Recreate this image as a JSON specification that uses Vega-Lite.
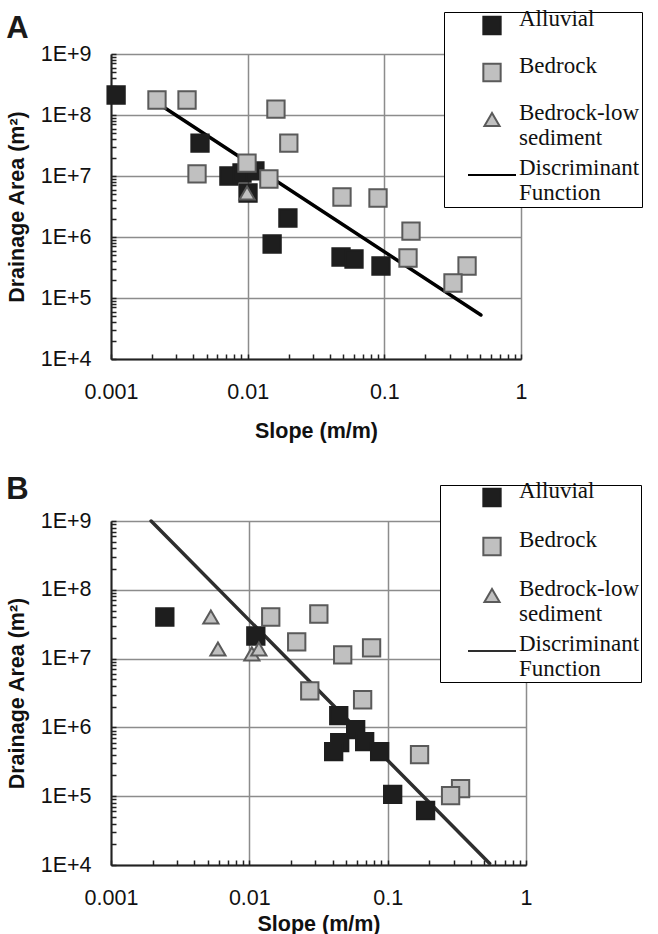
{
  "$schema": "https://vega.github.io/schema/vega-lite/v6.json",
  "background": "white",
  "padding": {"left": 6, "top": 11, "right": 0, "bottom": 0},
  "config": {
    "view": {"stroke": null},
    "font": "Liberation Sans",
    "axis": {
      "grid": true,
      "gridColor": "#8c8c8c",
      "gridWidth": 1.5,
      "domainColor": "#222222",
      "domainWidth": 2,
      "tickColor": "#222222",
      "tickWidth": 1.5,
      "tickSize": -5,
      "labelFont": "Liberation Sans",
      "labelFontSize": 21.5,
      "labelColor": "#111111",
      "labelOverlap": false,
      "labelFlush": false,
      "labelBound": false,
      "titleFont": "Liberation Sans",
      "titleFontSize": 21.5,
      "titleFontWeight": "bold",
      "titleColor": "#111111"
    },
    "legend": {
      "labelFont": "Liberation Serif",
      "labelFontSize": 23,
      "labelColor": "#111111",
      "labelLimit": 400,
      "labelBaseline": "alphabetic",
      "symbolStrokeWidth": 2,
      "strokeColor": "#000000",
      "fillColor": "#ffffff",
      "cornerRadius": 0
    },
    "title": {"font": "Liberation Sans", "fontWeight": "bold", "fontSize": 31, "color": "#1a1a1a", "anchor": "start"}
  },
  "datasets": {
    "ptsA": [
      {"s": 0.00109, "a": 213000000, "type": "Alluvial"},
      {"s": 0.00448, "a": 34700000, "type": "Alluvial"},
      {"s": 0.00729, "a": 10000000, "type": "Alluvial"},
      {"s": 0.00909, "a": 11200000, "type": "Alluvial"},
      {"s": 0.0113, "a": 12100000, "type": "Alluvial"},
      {"s": 0.01006, "a": 5260000, "type": "Alluvial"},
      {"s": 0.0197, "a": 2050000, "type": "Alluvial"},
      {"s": 0.0151, "a": 767000, "type": "Alluvial"},
      {"s": 0.0482, "a": 470000, "type": "Alluvial"},
      {"s": 0.060, "a": 436000, "type": "Alluvial"},
      {"s": 0.0945, "a": 335000, "type": "Alluvial"},
      {"s": 0.00217, "a": 176000000, "type": "Bedrock"},
      {"s": 0.0036, "a": 176000000, "type": "Bedrock"},
      {"s": 0.0161, "a": 125000000, "type": "Bedrock"},
      {"s": 0.020, "a": 34700000, "type": "Bedrock"},
      {"s": 0.00426, "a": 10800000, "type": "Bedrock"},
      {"s": 0.00989, "a": 16300000, "type": "Bedrock"},
      {"s": 0.0143, "a": 8930000, "type": "Bedrock"},
      {"s": 0.049, "a": 4530000, "type": "Bedrock"},
      {"s": 0.0899, "a": 4360000, "type": "Bedrock"},
      {"s": 0.1567, "a": 1250000, "type": "Bedrock"},
      {"s": 0.149, "a": 453000, "type": "Bedrock"},
      {"s": 0.403, "a": 335000, "type": "Bedrock"},
      {"s": 0.318, "a": 176000, "type": "Bedrock"},
      {"s": 0.0099, "a": 5260000, "type": "Bedrock-low sediment"}
    ],
    "lineA": [
      {"s": 0.00224, "a": 151000000, "type": "Discriminant Function"},
      {"s": 0.509, "a": 52600, "type": "Discriminant Function"}
    ],
    "ptsB": [
      {"s": 0.00245, "a": 40200000, "type": "Alluvial"},
      {"s": 0.01114, "a": 21300000, "type": "Alluvial"},
      {"s": 0.0443, "a": 1480000, "type": "Alluvial"},
      {"s": 0.0587, "a": 926000, "type": "Alluvial"},
      {"s": 0.045, "a": 600000, "type": "Alluvial"},
      {"s": 0.0407, "a": 445000, "type": "Alluvial"},
      {"s": 0.0682, "a": 621000, "type": "Alluvial"},
      {"s": 0.0875, "a": 445000, "type": "Alluvial"},
      {"s": 0.1087, "a": 106000, "type": "Alluvial"},
      {"s": 0.188, "a": 62000, "type": "Alluvial"},
      {"s": 0.01428, "a": 40200000, "type": "Bedrock"},
      {"s": 0.0318, "a": 44500000, "type": "Bedrock"},
      {"s": 0.022, "a": 17500000, "type": "Bedrock"},
      {"s": 0.0473, "a": 11300000, "type": "Bedrock"},
      {"s": 0.0765, "a": 14300000, "type": "Bedrock"},
      {"s": 0.02735, "a": 3400000, "type": "Bedrock"},
      {"s": 0.0659, "a": 2520000, "type": "Bedrock"},
      {"s": 0.170, "a": 402000, "type": "Bedrock"},
      {"s": 0.3365, "a": 129000, "type": "Bedrock"},
      {"s": 0.285, "a": 102000, "type": "Bedrock"},
      {"s": 0.00527, "a": 40200000, "type": "Bedrock-low sediment"},
      {"s": 0.00593, "a": 13800000, "type": "Bedrock-low sediment"},
      {"s": 0.01043, "a": 11700000, "type": "Bedrock-low sediment"},
      {"s": 0.01172, "a": 13800000, "type": "Bedrock-low sediment"}
    ],
    "lineB": [
      {"s": 0.00195, "a": 1000000000, "type": "Discriminant Function"},
      {"s": 0.546, "a": 10500, "type": "Discriminant Function"}
    ]
  },
  "spacing": 31,
  "resolve": {
    "scale": {"x": "independent", "y": "independent", "fill": "independent", "stroke": "independent", "shape": "independent", "size": "independent"},
    "legend": {"fill": "independent", "stroke": "independent", "shape": "independent", "size": "independent"}
  },
  "vconcat": [
    {
      "width": 410,
      "height": 305,
      "title": {"text": "A", "offset": 16, "dy": 49},
      "layer": [
        {
          "data": {"name": "lineA"},
          "mark": {"type": "line", "strokeCap": "round", "strokeWidth": 3.5},
          "encoding": {
            "x": {"field": "s", "type": "quantitative", "scale": {"type": "log", "domain": [0.001, 1], "nice": false},
              "axis": {"title": "Slope (m/m)", "format": "~g", "labelPadding": 27, "titlePadding": 18,
                "values": [0.001,0.002,0.003,0.004,0.005,0.006,0.007,0.008,0.009,0.01,0.02,0.03,0.04,0.05,0.06,0.07,0.08,0.09,0.1,0.2,0.3,0.4,0.5,0.6,0.7,0.8,0.9,1],
                "labelExpr": "abs(log(datum.value)/LN10 - round(log(datum.value)/LN10)) < 1e-6 ? datum.label : ''",
                "gridOpacity": {"condition": {"test": "abs(log(datum.value)/LN10 - round(log(datum.value)/LN10)) < 1e-6", "value": 1}, "value": 0}}},
            "y": {"field": "a", "type": "quantitative", "scale": {"type": "log", "domain": [10000, 1000000000], "nice": false},
              "axis": {"title": "Drainage Area (m²)", "labelPadding": 25, "titlePadding": 12,
                "values": [10000,20000,30000,40000,50000,60000,70000,80000,90000,100000,200000,300000,400000,500000,600000,700000,800000,900000,1000000,2000000,3000000,4000000,5000000,6000000,7000000,8000000,9000000,10000000,20000000,30000000,40000000,50000000,60000000,70000000,80000000,90000000,100000000,200000000,300000000,400000000,500000000,600000000,700000000,800000000,900000000,1000000000],
                "labelExpr": "abs(log(datum.value)/LN10 - round(log(datum.value)/LN10)) < 1e-6 ? '1E+' + round(log(datum.value)/LN10) : ''",
                "gridOpacity": {"condition": {"test": "abs(log(datum.value)/LN10 - round(log(datum.value)/LN10)) < 1e-6", "value": 1}, "value": 0}}},
            "stroke": {"field": "type", "type": "nominal",
              "scale": {"domain": ["Alluvial", "Bedrock", "Bedrock-low sediment", "Discriminant Function"], "range": ["#1e1e1e", "#5a5a5a", "#5a5a5a", "#000000"]}}
          }
        },
        {
          "data": {"name": "ptsA"},
          "mark": {"type": "point", "filled": true, "opacity": 1, "strokeWidth": 2},
          "encoding": {
            "x": {"field": "s", "type": "quantitative"},
            "y": {"field": "a", "type": "quantitative"},
            "fill": {"field": "type", "type": "nominal",
              "scale": {"domain": ["Alluvial", "Bedrock", "Bedrock-low sediment", "Discriminant Function"], "range": ["#1e1e1e", "#c0c0c0", "#c0c0c0", "#000000"]}},
            "stroke": {"field": "type", "type": "nominal"},
            "size": {"field": "type", "type": "nominal",
              "scale": {"type": "ordinal", "domain": ["Alluvial", "Bedrock", "Bedrock-low sediment", "Discriminant Function"], "range": [300, 300, 230, 2304]}},
            "shape": {"field": "type", "type": "nominal",
              "scale": {"domain": ["Alluvial", "Bedrock", "Bedrock-low sediment", "Discriminant Function"], "range": ["square", "square", "triangle-up", "stroke"]},
              "legend": {"title": null, "orient": "none", "legendX": 333, "legendY": -42, "padding": 2, "symbolOffset": 21, "labelOffset": 2, "rowPadding": -2,
                "labelExpr": "datum.label === 'Bedrock-low sediment' ? ['Bedrock-low', 'sediment'] : datum.label === 'Discriminant Function' ? ['Discriminant', 'Function'] : [datum.label, '']"}}
          }
        }
      ]
    },
    {
      "width": 415,
      "height": 344,
      "title": {"text": "B", "offset": 16, "dy": 37},
      "layer": [
        {
          "data": {"name": "lineB"},
          "mark": {"type": "line", "strokeCap": "round", "strokeWidth": 3.5},
          "encoding": {
            "x": {"field": "s", "type": "quantitative", "scale": {"type": "log", "domain": [0.001, 1], "nice": false},
              "axis": {"title": "Slope (m/m)", "format": "~g", "labelPadding": 27, "titlePadding": 5,
                "values": [0.001,0.002,0.003,0.004,0.005,0.006,0.007,0.008,0.009,0.01,0.02,0.03,0.04,0.05,0.06,0.07,0.08,0.09,0.1,0.2,0.3,0.4,0.5,0.6,0.7,0.8,0.9,1],
                "labelExpr": "abs(log(datum.value)/LN10 - round(log(datum.value)/LN10)) < 1e-6 ? datum.label : ''",
                "gridOpacity": {"condition": {"test": "abs(log(datum.value)/LN10 - round(log(datum.value)/LN10)) < 1e-6", "value": 1}, "value": 0}}},
            "y": {"field": "a", "type": "quantitative", "scale": {"type": "log", "domain": [10000, 1000000000], "nice": false},
              "axis": {"title": "Drainage Area (m²)", "labelPadding": 25, "titlePadding": 12,
                "values": [10000,20000,30000,40000,50000,60000,70000,80000,90000,100000,200000,300000,400000,500000,600000,700000,800000,900000,1000000,2000000,3000000,4000000,5000000,6000000,7000000,8000000,9000000,10000000,20000000,30000000,40000000,50000000,60000000,70000000,80000000,90000000,100000000,200000000,300000000,400000000,500000000,600000000,700000000,800000000,900000000,1000000000],
                "labelExpr": "abs(log(datum.value)/LN10 - round(log(datum.value)/LN10)) < 1e-6 ? '1E+' + round(log(datum.value)/LN10) : ''",
                "gridOpacity": {"condition": {"test": "abs(log(datum.value)/LN10 - round(log(datum.value)/LN10)) < 1e-6", "value": 1}, "value": 0}}},
            "stroke": {"field": "type", "type": "nominal",
              "scale": {"domain": ["Alluvial", "Bedrock", "Bedrock-low sediment", "Discriminant Function"], "range": ["#1e1e1e", "#5a5a5a", "#5a5a5a", "#2e2e2e"]}}
          }
        },
        {
          "data": {"name": "ptsB"},
          "mark": {"type": "point", "filled": true, "opacity": 1, "strokeWidth": 2},
          "encoding": {
            "x": {"field": "s", "type": "quantitative"},
            "y": {"field": "a", "type": "quantitative"},
            "fill": {"field": "type", "type": "nominal",
              "scale": {"domain": ["Alluvial", "Bedrock", "Bedrock-low sediment", "Discriminant Function"], "range": ["#1e1e1e", "#c0c0c0", "#c0c0c0", "#2e2e2e"]}},
            "stroke": {"field": "type", "type": "nominal"},
            "size": {"field": "type", "type": "nominal",
              "scale": {"type": "ordinal", "domain": ["Alluvial", "Bedrock", "Bedrock-low sediment", "Discriminant Function"], "range": [300, 300, 230, 2304]}},
            "shape": {"field": "type", "type": "nominal",
              "scale": {"domain": ["Alluvial", "Bedrock", "Bedrock-low sediment", "Discriminant Function"], "range": ["square", "square", "triangle-up", "stroke"]},
              "legend": {"title": null, "orient": "none", "legendX": 329, "legendY": -36, "padding": 1, "symbolOffset": 26, "labelOffset": 2, "rowPadding": 0,
                "labelExpr": "datum.label === 'Bedrock-low sediment' ? ['Bedrock-low', 'sediment'] : datum.label === 'Discriminant Function' ? ['Discriminant', 'Function'] : [datum.label, '']"}}
          }
        }
      ]
    }
  ]
}
